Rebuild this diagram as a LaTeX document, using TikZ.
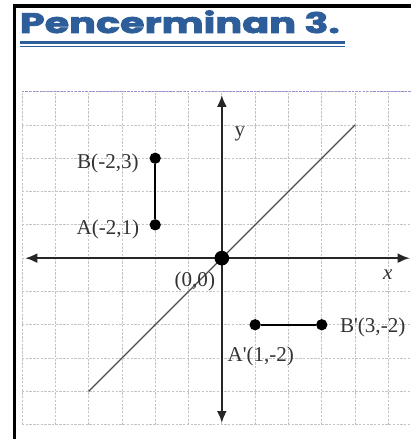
\documentclass[tikz,border=0pt]{standalone}
\usepackage{fontspec}
\newfontfamily\titlefont{Poppins}[FakeBold=2.5]
\newfontfamily\lblfont{Liberation Serif}
\usetikzlibrary{arrows.meta}
\definecolor{titleblue}{HTML}{2E5E99}
\definecolor{gridgray}{HTML}{C4C4C4}
\definecolor{inkgray}{HTML}{333333}
\tikzset{
  gridline/.style={gridgray, line width=0.6pt, dash pattern=on 2pt off 1.2pt},
  axisline/.style={black!85, line width=1.8pt, {Latex[length=0.36cm,width=0.3cm]}-{Latex[length=0.36cm,width=0.3cm]}},
  ptdot/.style={circle, fill=black, inner sep=0pt, minimum size=0.34cm},
  odot/.style={circle, fill=black, inner sep=0pt, minimum size=0.44cm},
  seg/.style={black, line width=1.6pt},
  diag/.style={black!70, line width=1.1pt},
  lbl/.style={inkgray, font=\lblfont\fontsize{18}{20}\selectfont, inner sep=0pt},
  frameline/.style={black, line width=2.6pt}
}
\begin{document}
\begin{tikzpicture}
\useasboundingbox[fill=white] (-6.66,-5.43) rectangle (5.67,7.75);
% frame
\coordinate (f1) at (-6.22,-5.6);
\coordinate (f2) at (-6.22,7.57);
\coordinate (f3) at (5.9,7.57);
\draw[frameline] (f1) -- (f2) -- (f3);
% title
\node[anchor=base west, inner sep=0pt, text=titleblue] (title) at (-6.07,6.76)
  {\resizebox{9.6cm}{0.68cm}{\titlefont\bfseries Pencerminan 3.}};
\coordinate (u1) at (-6.07,6.47);
\coordinate (u2) at (3.69,6.47);
\coordinate (u3) at (-6.07,6.36);
\coordinate (u4) at (3.69,6.36);
\draw[titleblue, line width=2pt] (u1) -- (u2);
\draw[titleblue, line width=0.9pt] (u3) -- (u4);
% grid
\foreach \i in {-6,...,5} { \draw[gridline] (\i,-5) -- (\i,5); }
\foreach \j in {-5,...,5} { \draw[gridline] (-6,\j) -- (5.8,\j); }
\draw[line width=0.8pt, color=blue!25!gridgray, dash pattern=on 2pt off 1pt] (-6,5) -- (5.8,5);
% diagonal
\coordinate (d1) at (-4,-4);
\coordinate (d2) at (4,4);
\draw[diag] (d1) -- (d2);
% axes
\coordinate (xl) at (-5.9,0);
\coordinate (xr) at (5.64,0);
\coordinate (yb) at (0,-4.95);
\coordinate (yt) at (0,4.9);
\draw[axisline] (xl) -- (xr);
\draw[axisline] (yb) -- (yt);
% points
\node[odot] (O) at (0,0) {};
\node[ptdot] (A) at (-2,1) {};
\node[ptdot] (B) at (-2,3) {};
\node[ptdot] (A2) at (1,-2) {};
\node[ptdot] (B2) at (3,-2) {};
\draw[seg] (A) -- (B);
\draw[seg] (A2) -- (B2);
% labels
\node[lbl] (ly) at (0.54,3.72) {y};
\node[lbl] (lx) at (4.98,-0.5) {\itshape x};
\node[lbl] (lO) at (-0.81,-0.7) {(0,0)};
\node[lbl] (lB) at (-3.42,2.85) {B(-2,3)};
\node[lbl] (lA) at (-3.42,0.87) {A(-2,1)};
\node[lbl] (lB2) at (4.53,-2.07) {B'(3,-2)};
\node[lbl] (lA2) at (1.17,-2.94) {A'(1,-2)};
\end{tikzpicture}
\end{document}
